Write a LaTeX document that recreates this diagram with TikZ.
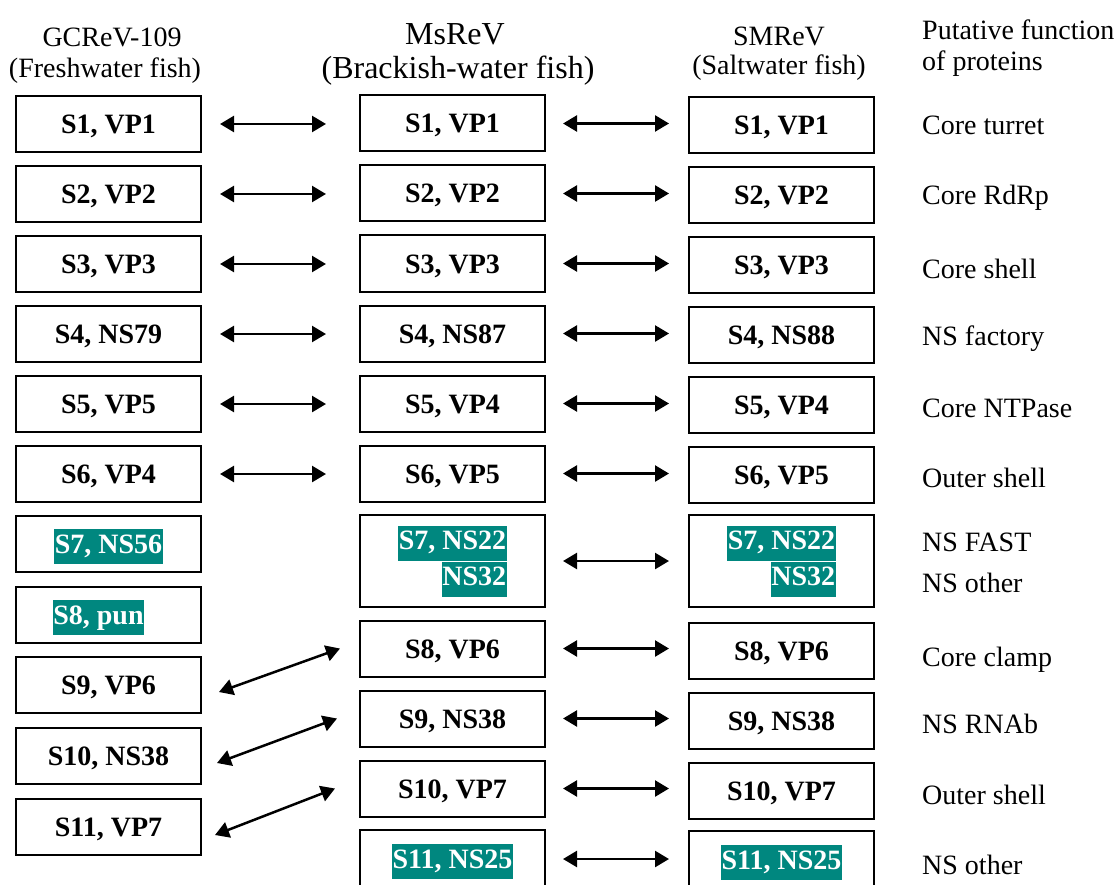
\documentclass[tikz,border=0pt]{standalone}
\usepackage{fontspec}
\setmainfont{Liberation Serif}
\usetikzlibrary{arrows.meta}
\definecolor{Teal}{HTML}{00877F}
\newcommand{\hlt}[1]{{\setlength{\fboxsep}{0.5pt}\colorbox{Teal}{\strut\textcolor{white}{#1}}}}

\begin{document}
\begin{tikzpicture}[x=1pt,y=-1pt,every node/.style={font=\fontsize{28}{34}\selectfont},
  seg/.style={draw,line width=2pt,minimum width=185pt,minimum height=56pt,inner sep=0pt,text height=19pt,text depth=0pt,font=\fontsize{28}{34}\selectfont\bfseries},
  lnk/.style={{Triangle[length=14pt,width=16pt]}-{Triangle[length=14pt,width=16pt]},line width=2.5pt},
  head/.style={anchor=base,inner sep=0pt},
  fn/.style={anchor=base west,inner sep=0pt}]
  \useasboundingbox (0,0) rectangle (1118,885);
  \clip (0,0) rectangle (1118,885);
  \node[head] (hg1) at (112,47) {GCReV-109};
  \node[head] (hg2) at (105,78) {(Freshwater fish)};
  \node[head,font=\fontsize{32}{38}\selectfont] (hm1) at (455,45) {MsReV};
  \node[head,font=\fontsize{32}{38}\selectfont] (hm2) at (458,79) {(Brackish-water fish)};
  \node[head] (hs1) at (779,46) {SMReV};
  \node[head] (hs2) at (779,75) {(Saltwater fish)};
  \node[fn] (hf1) at (922,40) {Putative function};
  \node[fn] (hf2) at (922,71) {of proteins};
  \foreach \i/\y/\t in {1/124/{S1, VP1},2/194/{S2, VP2},3/264/{S3, VP3},4/334/{S4, NS79},
    5/404/{S5, VP5},6/474/{S6, VP4},7/544/{\hlt{S7, NS56}},8/614.5/{\hlt{S8, pun}\hspace*{20pt}},
    9/684.5/{S9, VP6},10/755.5/{S10, NS38},11/826.5/{S11, VP7}}{
    \node[seg] (g\i) at (108.5,\y) {\t};
  }
  \foreach \i/\y/\t in {1/123.5/{S1, VP1},2/193.5/{S2, VP2},3/263.5/{S3, VP3},4/333.5/{S4, NS87},
    5/403.5/{S5, VP4},6/473.5/{S6, VP5},8/648.5/{S8, VP6},9/718.5/{S9, NS38},10/788.5/{S10, VP7}}{
    \node[seg] (m\i) at (452.5,\y) {\t};
  }
  \foreach \i/\y/\t in {1/125/{S1, VP1},2/195/{S2, VP2},3/265/{S3, VP3},4/335/{S4, NS88},
    5/405/{S5, VP4},6/475/{S6, VP5},8/650.5/{S8, VP6},9/720.5/{S9, NS38},10/790.5/{S10, VP7}}{
    \node[seg] (s\i) at (781.5,\y) {\t};
  }
  \node[seg,minimum height=92pt,align=right,text height=,text depth=] (m7) at (452.5,561) {\hlt{S7, NS22}\\\hlt{NS32}};
  \node[seg,minimum height=92pt,align=right,text height=,text depth=] (s7) at (781.5,561) {\hlt{S7, NS22}\\\hlt{NS32}};
  \node[seg,minimum height=58pt] (m11) at (452.5,859) {\hlt{S11, NS25}};
  \node[seg,minimum height=58pt] (s11) at (781.5,860) {\hlt{S11, NS25}};
  \foreach \i/\y/\t in {1/135/Core turret,2/205/Core RdRp,3/278/Core shell,4/345/NS factory,
    5/417/Core NTPase,6/487/Outer shell,7/551/NS FAST,7b/592/NS other,8/666/Core clamp,
    9/733/NS RNAb,10/804/Outer shell,11/874/NS other}{
    \node[fn] (f\i) at (922,\y) {\t};
  }
  \foreach \i in {1,...,6}{
    \draw[lnk,shorten <=18pt,shorten >=33pt] (g\i.east) -- (g\i.east -| m\i.west);
  }
  \foreach \i in {1,...,11}{
    \draw[lnk,shorten <=17pt,shorten >=19pt] (m\i.east) -- (m\i.east -| s\i.west);
  }
  \foreach \a/\b/\dx/\dy/\ex in {9/8/17/7.5/19,10/9/15/7.5/22,11/10/13/8.5/24}{
    \draw[lnk] ([shift={(\dx,\dy)}]g\a.east) -- ([xshift=-\ex pt]m\b.west);
  }
\end{tikzpicture}
\end{document}
